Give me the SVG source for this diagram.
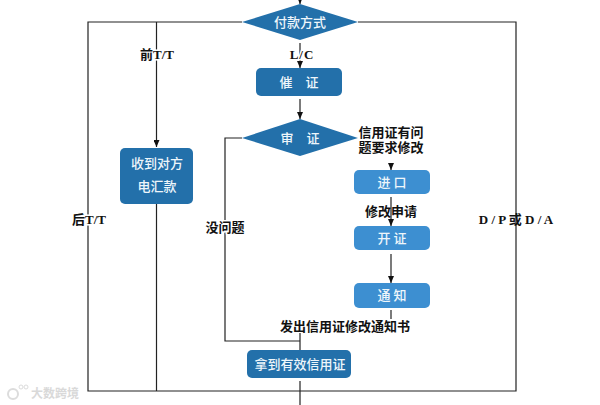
<svg xmlns="http://www.w3.org/2000/svg" width="600" height="405" viewBox="0 0 600 405">
<style>
.l{fill:none;stroke:#222;stroke-width:1.2}
.dark{fill:#2370aa}
.light{fill:#3d8fd1}
.w{font-family:"Noto Sans CJK SC","Liberation Sans",sans-serif;font-size:13px;font-weight:500;fill:#eef6fb;text-anchor:middle}
.k{font-family:"Noto Sans CJK SC",sans-serif;font-size:13px;font-weight:700;fill:#111;text-anchor:middle}
.m{font-family:"Liberation Serif","Noto Sans CJK SC",serif;font-size:13px;font-weight:700;fill:#111;text-anchor:middle}
.h{paint-order:stroke;stroke:#fff;stroke-width:3px;stroke-linejoin:round}
.wm{font-family:"Noto Sans CJK SC",sans-serif;font-size:12px;font-weight:700;fill:#d9d9d9}
</style>
<defs><marker id="a" markerUnits="userSpaceOnUse" markerWidth="8" markerHeight="6" refX="7" refY="3" orient="auto"><path d="M0 0L7 3L0 6Z" fill="#111"/></marker></defs>
<rect width="600" height="405" fill="#fff"/>
<g id="connectors">
<path class="l" d="M300 0V4" marker-end="url(#a)"/>
<path class="l" d="M242 22H88V391H516V22H358"/>
<path class="l" d="M156.500 22V147" marker-end="url(#a)"/>
<path class="l" d="M156.500 203V391"/>
<path class="l" d="M300 43V68" marker-end="url(#a)"/>
<path class="l" d="M300 99V119" marker-end="url(#a)"/>
<path class="l" d="M242 138H225V341H300"/>
<path class="l" d="M391 163V170" marker-end="url(#a)"/>
<path class="l" d="M391 197V226" marker-end="url(#a)"/>
<path class="l" d="M391 254V283" marker-end="url(#a)"/>
<path class="l" d="M391 310V319"/>
<path class="l" d="M300 333V350"/>
<path class="l" d="M300 381V405"/>
</g>
<g id="n-pay"><polygon class="dark" points="242,22 300,4 358,22 300,40"/><text class="w" x="300" y="27">付款方式</text></g>
<g id="n-cui"><rect class="dark" x="256" y="68" width="86" height="28" rx="5"/><text class="w" x="299" y="87">催　证</text></g>
<g id="n-shen"><polygon class="dark" points="242,138 300,119 358,138 300,156"/><text class="w" x="300" y="143">审　证</text></g>
<g id="n-shou"><rect class="dark" x="120" y="148" width="73" height="56" rx="5"/><text class="w" x="157" y="168">收到对方</text><text class="w" x="157" y="191">电汇款</text></g>
<g id="n-jin"><rect class="light" x="354" y="170" width="76" height="24" rx="5"/><text class="w" x="392" y="187">进 口</text></g>
<g id="n-kai"><rect class="light" x="354" y="226" width="76" height="24" rx="5"/><text class="w" x="392" y="243">开 证</text></g>
<g id="n-tong"><rect class="light" x="354" y="283" width="76" height="25" rx="5"/><text class="w" x="392" y="300">通 知</text></g>
<g id="n-na"><rect class="dark" x="247" y="350" width="104" height="28" rx="5"/><text class="w" x="300" y="369">拿到有效信用证</text></g>
<g id="labels">
<text class="m h" x="157" y="59">前T/T</text>
<text class="m h" x="302" y="59" letter-spacing="1">L/C</text>
<text class="m h" x="89" y="224">后T/T</text>
<text class="k h" x="225" y="232">没问题</text>
<text class="k"><tspan x="391" y="137">信用证有问</tspan><tspan x="391" y="151.500">题要求修改</tspan></text>
<text class="k" x="391" y="216">修改申请</text>
<text class="m" x="516" y="224" xml:space="preserve">D / P 或 D / A</text>
<text class="k" x="345" y="331">发出信用证修改通知书</text>
</g>
<g id="watermark"><circle cx="13" cy="394" r="5" fill="none" stroke="#dcdcdc" stroke-width="2"/><circle cx="21" cy="387" r="2" fill="none" stroke="#dcdcdc"/><circle cx="26" cy="387" r="2" fill="none" stroke="#dcdcdc"/><text class="wm" x="31" y="398">大数跨境</text></g>
</svg>
